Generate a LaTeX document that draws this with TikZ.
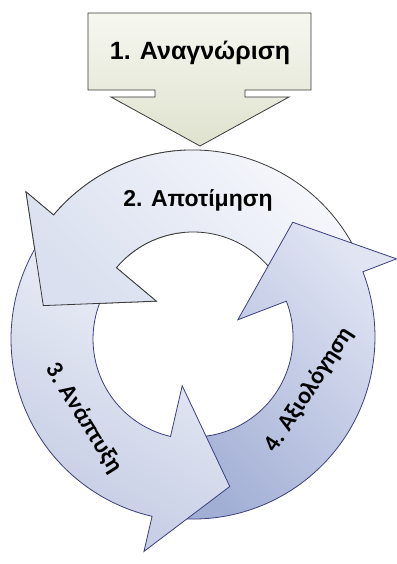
\documentclass[tikz,border=0pt]{standalone}
\usepackage{fontspec}
\setmainfont{Liberation Sans}
\newfontfamily\calfont{Carlito}
\usetikzlibrary{positioning}

\definecolor{boxtop}{HTML}{F6F7F0}
\definecolor{boxbot}{HTML}{DFE2CE}
\definecolor{lineA}{HTML}{3A3A3A}
\definecolor{lineB}{HTML}{3B3F7E}
\definecolor{twolt}{HTML}{F8F9FD}
\definecolor{twodk}{HTML}{DAE0EF}
\definecolor{threelt}{HTML}{F2F4FA}
\definecolor{threedk}{HTML}{C2CAE3}
\definecolor{fourlt}{HTML}{E0E4F3}
\definecolor{fourdk}{HTML}{A2AFD5}

% circular arrow: style, centre, start angle, body end angle, tip angle
\newcommand{\cyclearrow}[5]{%
  \draw[#1,shift={(#2)}] (#3:182) arc[start angle=#3,end angle=#4,radius=182]
    -- (#4:218) -- (#5:152) -- (#4:48) -- (#4:100)
    arc[start angle=#4,end angle=#3,radius=100] -- cycle;}

\begin{document}
\begin{tikzpicture}[x=1pt,y=1pt, line join=miter,
  boxarrow/.style={draw=lineA,line width=0.8pt,top color=boxtop,bottom color=boxbot},
  arrowtwo/.style={draw=lineA,line width=0.8pt,top color=twolt,bottom color=twodk,shading angle=-45},
  arrowthree/.style={draw=lineB,line width=0.8pt,top color=threelt,bottom color=threedk,shading angle=-30},
  arrowfour/.style={draw=lineB,line width=0.8pt,top color=fourlt,bottom color=fourdk,shading angle=-45},
  titletxt/.style={font=\bfseries\fontsize{25}{28}\selectfont},
  steptxt/.style={font=\calfont\bfseries\fontsize{24}{28}\selectfont}]
\useasboundingbox (0,0) rectangle (396,564);

% stage 1: down arrow box
\draw[boxarrow] (88,551) -- (311,551) -- (311,474) -- (245,474) -- (245,467) -- (289,467)
  -- (200,418) -- (111,467) -- (155,467) -- (155,474) -- (88,474) -- cycle;
\node[titletxt] (recog) at (200,511) {1. Αναγνώριση};

% the cycle
\coordinate (c2) at (193,232);
\coordinate (c3) at (193,225);
\coordinate (c4) at (193,227);
\cyclearrow{arrowtwo}{c2}{24}{140}{170}
\cyclearrow{arrowfour}{c4}{262}{381}{409}
\cyclearrow{arrowthree}{c3}{143}{257}{284}
\begin{scope}
  \clip (0,234) rectangle (185,420);
  \cyclearrow{arrowtwo}{c2}{24}{140}{170}
\end{scope}

\node[font=\bfseries\fontsize{23}{26}\selectfont] (assess) at (198,364) {2. Αποτίμηση};
\node[steptxt,rotate=-58] (devel) at (84,146) {3. Ανάπτυξη};
\node[steptxt,rotate=57] (evalu) at (309,174) {4. Αξιολόγηση};
\end{tikzpicture}
\end{document}
